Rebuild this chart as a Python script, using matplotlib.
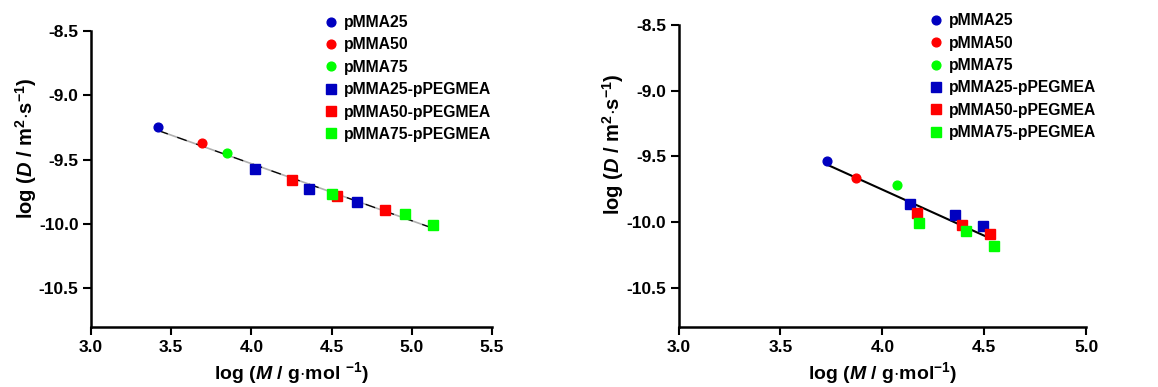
import numpy as np
import matplotlib
matplotlib.use("Agg")
import matplotlib.pyplot as plt

plt.rcParams["font.family"] = ["Liberation Sans", "DejaVu Sans"]
plt.rcParams["font.weight"] = "bold"
plt.rcParams["mathtext.fontset"] = "custom"
plt.rcParams["mathtext.rm"] = "Liberation Sans:bold"
plt.rcParams["mathtext.it"] = "Liberation Sans:italic:bold"
plt.rcParams["mathtext.bf"] = "Liberation Sans:bold"

labels = ["pMMA25", "pMMA50", "pMMA75",
          "pMMA25-pPEGMEA", "pMMA50-pPEGMEA", "pMMA75-pPEGMEA"]
colors = ["#0000c0", "#ff0000", "#00ff00"]

# left panel: log M, log D
left_x = {
    "pMMA25": [3.42], "pMMA50": [3.69], "pMMA75": [3.845],
    "pMMA25-pPEGMEA": [4.02, 4.36, 4.656],
    "pMMA50-pPEGMEA": [4.256, 4.536, 4.835],
    "pMMA75-pPEGMEA": [4.50, 4.957, 5.13],
}
left_y = {
    "pMMA25": [-9.25], "pMMA50": [-9.37], "pMMA75": [-9.445],
    "pMMA25-pPEGMEA": [-9.575, -9.73, -9.83],
    "pMMA50-pPEGMEA": [-9.658, -9.785, -9.893],
    "pMMA75-pPEGMEA": [-9.77, -9.924, -10.007],
}

# right panel
right_x = {
    "pMMA25": [3.73], "pMMA50": [3.869], "pMMA75": [4.074],
    "pMMA25-pPEGMEA": [4.134, 4.356, 4.495],
    "pMMA50-pPEGMEA": [4.17, 4.389, 4.526],
    "pMMA75-pPEGMEA": [4.18, 4.408, 4.55],
}
right_y = {
    "pMMA25": [-9.533], "pMMA50": [-9.662], "pMMA75": [-9.72],
    "pMMA25-pPEGMEA": [-9.865, -9.947, -10.028],
    "pMMA50-pPEGMEA": [-9.929, -10.023, -10.094],
    "pMMA75-pPEGMEA": [-10.01, -10.071, -10.18],
}
right_fit_range = [3.73, 4.50]

fig = plt.figure(figsize=(11.58, 3.87), dpi=100)
ax1 = fig.add_axes([0.0786, 0.155, 0.3463, 0.765])
ax2 = fig.add_axes([0.586, 0.155, 0.352, 0.78])


def draw(ax, xs, ys, xlim, xticks, xlabel, leg_anchor, ylab_x):
    for i, lab in enumerate(labels):
        col = colors[i % 3]
        if i < 3:
            ax.plot(xs[lab], ys[lab], "o", color=col, ms=6.3, label=lab,
                    mec=col, zorder=3)
        else:
            ax.plot(xs[lab], ys[lab], "s", color=col, ms=7.5, label=lab,
                    mec=col, zorder=3)
    ax.set_xlim(*xlim)
    ax.set_ylim(-10.8, -8.5)
    ax.set_xticks(xticks)
    ax.set_yticks([-8.5, -9.0, -9.5, -10.0, -10.5])
    ax.set_yticklabels(["-8.5", "-9.0", "-9.5", "-10.0", "-10.5"])
    ax.set_xticklabels([f"{t:.1f}" for t in xticks])
    for s in ["top", "right"]:
        ax.spines[s].set_visible(False)
    for s in ["left", "bottom"]:
        ax.spines[s].set_linewidth(1.8)
    ax.tick_params(direction="out", length=6, width=1.5, labelsize=12.5, pad=3)
    for t in ax.get_xticklabels() + ax.get_yticklabels():
        t.set_fontweight("bold")
    ax.set_xlabel(xlabel, fontsize=14, fontweight="bold", labelpad=4)
    ax.set_ylabel(r"log ($\mathit{D}$ / m$^{2}$$\cdot$s$^{-1}$)", fontsize=14.5,
                  fontweight="bold")
    ax.yaxis.set_label_coords(ylab_x, 0.605)
    leg = ax.legend(loc="upper left", bbox_to_anchor=leg_anchor,
                    frameon=False, fontsize=11.3, handlelength=0.8,
                    handletextpad=0.45, labelspacing=0.47, borderaxespad=0)
    for t in leg.get_texts():
        t.set_fontweight("bold")
    return leg


all_lx = np.concatenate([left_x[k] for k in labels])
all_ly = np.concatenate([left_y[k] for k in labels])
p = np.polyfit(all_lx, all_ly, 1)
fx = np.array([all_lx.min(), all_lx.max()])
ax1.plot(fx, np.polyval(p, fx), color="#b0b0b0", lw=1.2, zorder=1)
ax1.plot(fx, np.polyval(p, fx), color="black", lw=0.9, zorder=2,
         dashes=(8, 8))
draw(ax1, left_x, left_y, (3.0, 5.5), [3.0, 3.5, 4.0, 4.5, 5.0, 5.5],
     r"log ($\mathit{M}$ / g$\cdot$mol $^{-1}$)", (0.567, 1.075), -0.13)

all_rx = np.concatenate([right_x[k] for k in labels])
all_ry = np.concatenate([right_y[k] for k in labels])
p2 = np.polyfit(all_rx, all_ry, 1)
fx2 = np.array(right_fit_range)
ax2.plot(fx2, np.polyval(p2, fx2), color="black", lw=1.5, zorder=1)
draw(ax2, right_x, right_y, (3.0, 5.0), [3.0, 3.5, 4.0, 4.5, 5.0],
     r"log ($\mathit{M}$ / g$\cdot$mol$^{-1}$)", (0.6, 1.06), -0.128)

fig.savefig("out.png", dpi=100)
